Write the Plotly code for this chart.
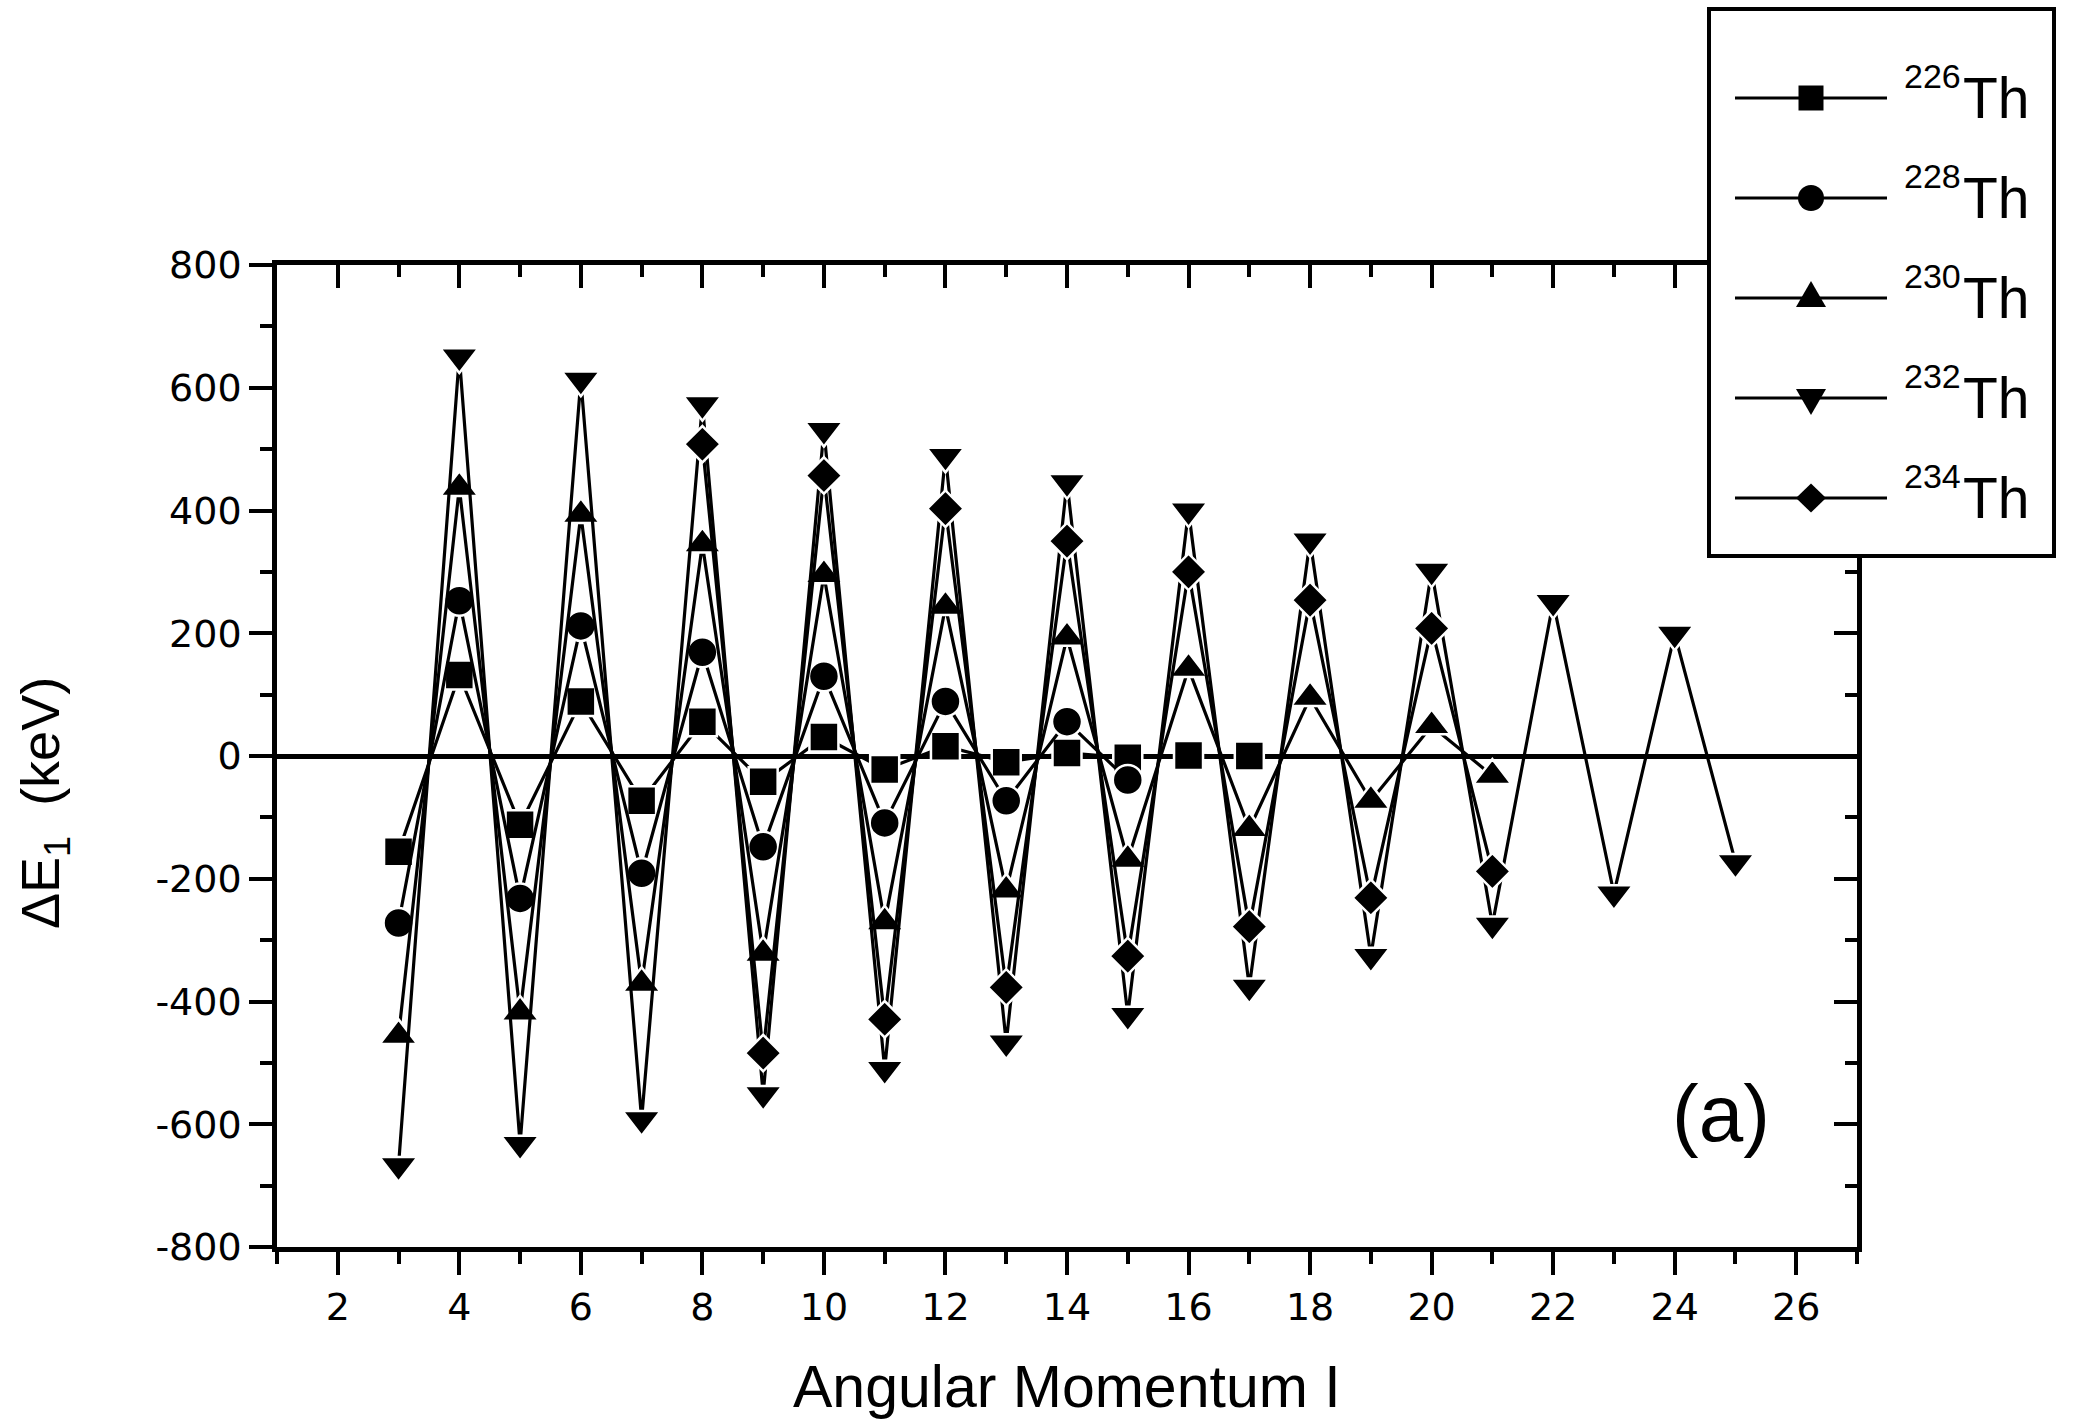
import plotly.graph_objects as go

# ---------------- data ----------------
I_226 = list(range(3, 18))
dE_226 = [-156, 132, -112, 89, -73, 56, -42, 31, -22, 16, -10, 5, -3, 1, 0]

I_228 = list(range(3, 16))
dE_228 = [-272, 253, -232, 212, -191, 169, -148, 130, -109, 89, -73, 56, -39]

I_230 = list(range(3, 22))
dE_230 = [-456, 437, -418, 393, -371, 345, -322, 295, -271, 243, -219, 193,
          -169, 142, -119, 95, -73, 49, -32]

I_232 = list(range(3, 26))
dE_232 = [-667, 651, -632, 613, -592, 573, -551, 531, -510, 489, -467, 446,
          -422, 400, -376, 351, -326, 302, -275, 251, -224, 199, -173]

I_234 = list(range(8, 22))
dE_234 = [508, -484, 457, -429, 403, -377, 350, -326, 300, -278, 254, -231, 208, -188]

series_names = ["226", "228", "230", "232", "234"]
x_tick_vals = list(range(2, 27, 2))
x_tick_text = [str(v) for v in x_tick_vals]
y_tick_vals = list(range(-800, 801, 200))
y_tick_text = [str(v) for v in y_tick_vals]

# ---------------- layout geometry ----------------
W, H = 2073, 1422
L, R, T, B = 277, 216, 265, 175
PW, PH = W - L - R, H - T - B
FONT = "Arial, Liberation Sans, sans-serif"
TICKFONT = "DejaVu Sans, Arial, sans-serif"


def px(x):
    return (x - L) / PW


def py(y):
    return (H - B - y) / PH


fig = go.Figure()

specs = [
    (I_226, dE_226, "square", 29),
    (I_228, dE_228, "circle", 30),
    (I_230, dE_230, "triangle-up", 33),
    (I_232, dE_232, "triangle-down", 33),
    (I_234, dE_234, "diamond", 28),
]
for (xs, ys, sym, sz), nm in zip(specs, series_names):
    fig.add_trace(go.Scatter(
        x=xs, y=ys, mode="lines+markers", name=nm + "Th",
        line=dict(color="black", width=3.2),
        marker=dict(symbol=sym, size=sz, color="black",
                    line=dict(color="white", width=2.5)),
        showlegend=False, cliponaxis=False,
    ))

# dummy trace to create the mirrored (top/right) axes
fig.add_trace(go.Scatter(x=[None], y=[None], xaxis="x2", yaxis="y2",
                         showlegend=False, hoverinfo="skip"))

axis_common = dict(showgrid=False, showline=True, linecolor="black", linewidth=4.5,
                   tickcolor="black", tickwidth=4, ticklen=23)
minor_common = dict(ticklen=12, tickwidth=4, tickcolor="black")

fig.update_layout(
    width=W, height=H, autosize=False,
    margin=dict(l=L, r=R, t=T, b=B, pad=0),
    plot_bgcolor="white", paper_bgcolor="white",
    font=dict(family=FONT, color="black", size=38),
    xaxis=dict(range=[1, 27], ticks="outside", tickmode="array",
               tickvals=x_tick_vals, ticktext=x_tick_text,
               tickfont=dict(size=38, family=TICKFONT),
               zeroline=False,
               minor=dict(tickmode="linear", tick0=1, dtick=1, ticks="outside",
                          **minor_common),
               **axis_common),
    yaxis=dict(range=[-800, 800], ticks="outside", tickmode="array",
               tickvals=y_tick_vals, ticktext=y_tick_text,
               tickfont=dict(size=38, family=TICKFONT),
               zeroline=True, zerolinecolor="black", zerolinewidth=4.5,
               minor=dict(tickmode="linear", tick0=-800, dtick=100, ticks="outside",
                          **minor_common),
               **axis_common),
    xaxis2=dict(range=[1, 27], overlaying="x", side="top", anchor="y2",
                ticks="inside", tickmode="array", tickvals=x_tick_vals,
                showticklabels=False, zeroline=False,
                minor=dict(tickmode="linear", tick0=1, dtick=1, ticks="inside",
                           **minor_common),
                **axis_common),
    yaxis2=dict(range=[-800, 800], overlaying="y", side="right", anchor="x2",
                ticks="inside", tickmode="array", tickvals=y_tick_vals,
                showticklabels=False, zeroline=False,
                minor=dict(tickmode="linear", tick0=-800, dtick=100, ticks="inside",
                           **minor_common),
                **axis_common),
)

annotations = [
    dict(text="Angular Momentum I", x=px(1067), y=py(1387), xref="paper", yref="paper",
         xanchor="center", yanchor="middle", showarrow=False,
         font=dict(size=59, family=FONT)),
    dict(text="\u0394E<sub>1</sub>\u00a0\u00a0(keV)", x=px(44), y=py(803),
         xref="paper", yref="paper", textangle=-90,
         xanchor="center", yanchor="middle", showarrow=False,
         font=dict(size=54, family=FONT)),
    dict(text="(a)", x=px(1721), y=py(1113), xref="paper", yref="paper",
         xanchor="center", yanchor="middle", showarrow=False,
         font=dict(size=80, family=FONT)),
]

shapes = [
    dict(type="rect", xref="paper", yref="paper", layer="above",
         x0=px(1709), x1=px(2054), y0=py(556), y1=py(9),
         fillcolor="white", line=dict(color="black", width=4)),
]

row_y = [98, 198, 298, 398, 498]
mx = 1811
legend_symbols = ["square", "circle", "triangle-up", "triangle-down", "diamond"]
for nm, yc, sym in zip(series_names, row_y, legend_symbols):
    shapes.append(dict(type="line", xref="paper", yref="paper", layer="above",
                       x0=px(1735), x1=px(1887), y0=py(yc), y1=py(yc),
                       line=dict(color="black", width=3)))
    if sym == "square":
        shapes.append(dict(type="rect", xref="paper", yref="paper", layer="above",
                           x0=px(mx - 12.5), x1=px(mx + 12.5),
                           y0=py(yc + 12.5), y1=py(yc - 12.5),
                           fillcolor="black", line=dict(color="black", width=0)))
    elif sym == "circle":
        shapes.append(dict(type="circle", xref="paper", yref="paper", layer="above",
                           x0=px(mx - 13), x1=px(mx + 13),
                           y0=py(yc + 13), y1=py(yc - 13),
                           fillcolor="black", line=dict(color="black", width=0)))
    else:
        if sym == "triangle-up":
            pts = [(mx - 15, yc + 9), (mx + 15, yc + 9), (mx, yc - 17)]
        elif sym == "triangle-down":
            pts = [(mx - 15, yc - 9), (mx + 15, yc - 9), (mx, yc + 17)]
        else:
            pts = [(mx - 15, yc), (mx, yc - 14.5), (mx + 15, yc), (mx, yc + 14.5)]
        path = "M " + " L ".join(f"{px(a):.5f},{py(b):.5f}" for a, b in pts) + " Z"
        shapes.append(dict(type="path", xref="paper", yref="paper", layer="above",
                           path=path, fillcolor="black",
                           line=dict(color="black", width=0)))
    annotations.append(dict(text=nm, x=px(1902), y=py(yc - 22.5), xref="paper",
                            yref="paper", xanchor="left", yanchor="middle",
                            showarrow=False, font=dict(size=34, family=FONT)))
    annotations.append(dict(text="Th", x=px(1961), y=py(yc), xref="paper",
                            yref="paper", xanchor="left", yanchor="middle",
                            showarrow=False, font=dict(size=57, family=FONT)))

fig.update_layout(annotations=annotations, shapes=shapes)

fig.write_html("out.html")
